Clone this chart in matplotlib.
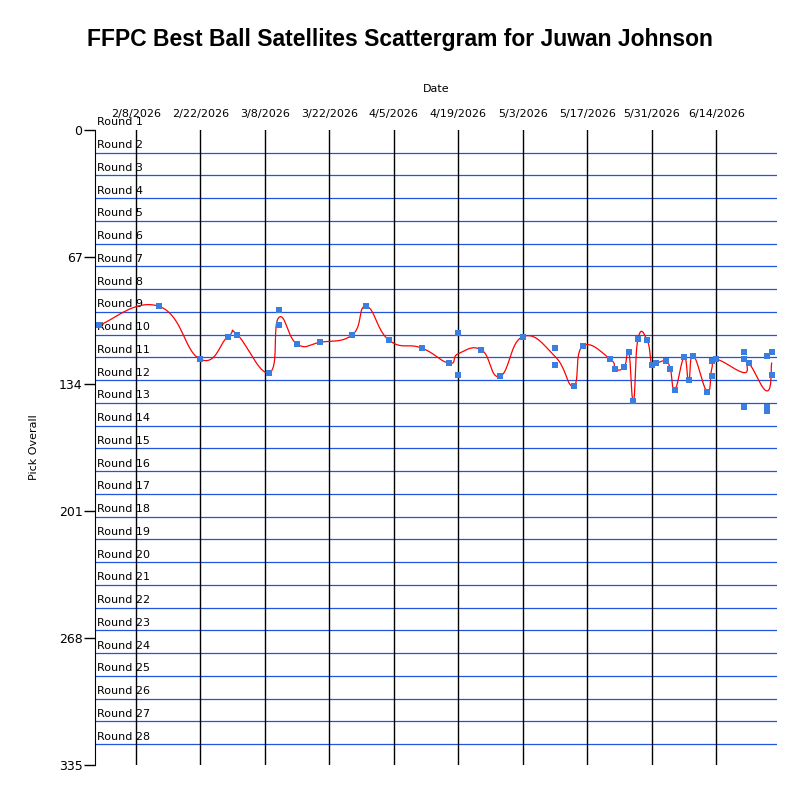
import matplotlib
matplotlib.use("Agg")
import matplotlib.pyplot as plt
import matplotlib.dates as mdates
import numpy as np
import pandas as pd

# pick data
dates = ["2026-01-31", "2026-02-13", "2026-02-22", "2026-02-28", "2026-03-02", "2026-03-09",
         "2026-03-11", "2026-03-11", "2026-03-15", "2026-03-20", "2026-03-27", "2026-03-30",
         "2026-04-04", "2026-04-11", "2026-04-17", "2026-04-19", "2026-04-19", "2026-04-24",
         "2026-04-28", "2026-05-03", "2026-05-10", "2026-05-10", "2026-05-14", "2026-05-16",
         "2026-05-22", "2026-05-23", "2026-05-25", "2026-05-26", "2026-05-27", "2026-05-28",
         "2026-05-30", "2026-05-31", "2026-06-01", "2026-06-03", "2026-06-04", "2026-06-05",
         "2026-06-07", "2026-06-08", "2026-06-09", "2026-06-12", "2026-06-13", "2026-06-13",
         "2026-06-14", "2026-06-20", "2026-06-20", "2026-06-20", "2026-06-21", "2026-06-25",
         "2026-06-25", "2026-06-25", "2026-06-26", "2026-06-26"]
picks = [103, 93, 121, 109, 108, 128,
         95, 103, 113, 112, 108, 93,
         111, 115, 123, 107, 129, 116,
         130, 109, 115, 124, 135, 114,
         121, 126, 125, 117, 143, 110,
         111, 124, 123, 122, 126, 137,
         120, 132, 119, 138, 130, 122,
         121, 117, 121, 146, 123, 119,
         146, 148, 117, 129]

tick_dates = ["2026-02-08", "2026-02-22", "2026-03-08", "2026-03-22", "2026-04-05", "2026-04-19",
              "2026-05-03", "2026-05-17", "2026-05-31", "2026-06-14"]
y_ticks = [0, 67, 134, 201, 268, 335]
n_rounds = 28
picks_per_round = 12


def cardinal_spline(x, y, tension=0.7, steps=20):
    px = np.concatenate([[x[0]], x, [x[-1]]])
    py = np.concatenate([[y[0]], y, [y[-1]]])
    xs, ys = [], []
    for i in range(1, len(px) - 2):
        p0, p1, p2, p3 = (np.array([px[j], py[j]]) for j in (i - 1, i, i + 1, i + 2))
        c1 = p1 + tension * (p2 - p0) / 3
        c2 = p2 - tension * (p3 - p1) / 3
        t = np.linspace(0, 1, steps)[:, None]
        b = (1 - t) ** 3 * p1 + 3 * (1 - t) ** 2 * t * c1 + 3 * (1 - t) * t ** 2 * c2 + t ** 3 * p2
        xs.append(b[:, 0]); ys.append(b[:, 1])
    return np.concatenate(xs), np.concatenate(ys)


df = pd.DataFrame({"date": pd.to_datetime(dates), "pick": picks})
daily = df.groupby("date")["pick"].mean()

fig = plt.figure(figsize=(8, 8), dpi=100)
ax = fig.add_axes([95 / 800, 35 / 800, 682 / 800, 635 / 800])
fig.text(0.5, 0.951, "FFPC Best Ball Satellites Scattergram for Juwan Johnson", ha="center", va="center",
         fontsize=16.5, fontweight="bold", family="Liberation Sans")

x0 = mdates.date2num(pd.Timestamp("2026-01-30 03:00"))
x1 = mdates.date2num(pd.Timestamp("2026-06-27 04:00"))
ax.set_xlim(x0, x1)
ax.set_ylim(335, 0)

for k in range(1, n_rounds):
    ax.axhline(k * picks_per_round, color="#2255dd", lw=0.9, zorder=1)
for k in range(1, n_rounds + 1):
    ax.text(x0 + 0.5, picks_per_round * (k - 1) - 4, f"Round {k}", fontsize=8, va="center",
            ha="left", color="black", zorder=2)
for d in tick_dates:
    ax.axvline(mdates.date2num(pd.Timestamp(d)), color="black", lw=1, zorder=1)

xd = mdates.date2num(daily.index.to_pydatetime())
sx, sy = cardinal_spline(xd, daily.values)
ax.plot(sx, sy, color="red", lw=0.9, zorder=3)
ax.scatter(mdates.date2num(df["date"].dt.to_pydatetime()), df["pick"], marker="s", s=14,
           color="#3a7fe0", zorder=4, linewidths=0)

ax.xaxis.tick_top()
ax.xaxis.set_label_position("top")
ax.set_xticks([mdates.date2num(pd.Timestamp(d)) for d in tick_dates])
ax.set_xticklabels([f"{pd.Timestamp(d).month}/{pd.Timestamp(d).day}/{pd.Timestamp(d).year}" for d in tick_dates],
                   fontsize=8)
ax.tick_params(axis="x", length=0, pad=8)
ax.set_xlabel("Date", fontsize=8, labelpad=12)
ax.set_yticks(y_ticks)
ax.set_yticklabels([str(v) for v in y_ticks], fontsize=9)
ax.tick_params(axis="y", length=8, width=1, pad=1)
ax.set_ylabel("Pick Overall", fontsize=8, labelpad=14)
for s in ("top", "right", "bottom"):
    ax.spines[s].set_visible(False)

fig.savefig("out.png", dpi=100)
